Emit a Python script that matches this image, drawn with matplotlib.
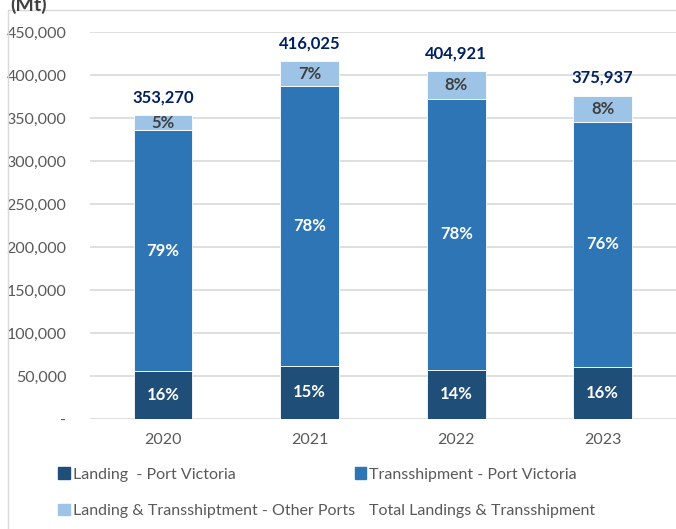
import numpy as np
import matplotlib.pyplot as plt
from matplotlib.patches import Patch, Rectangle

# ====== DATA (Mt) ======
years = ["2020", "2021", "2022", "2023"]
landing_pv = [55500, 62000, 57500, 60500]
transship_pv = [280000, 325000, 315000, 285000]
other_ports = [17770, 29025, 32421, 30437]
totals = [353270, 416025, 404921, 375937]

c_land = "#1F4E79"
c_trans = "#2E75B6"
c_other = "#9DC3E6"
c_total = "#002060"
c_grey = "#595959"

plt.rcParams["font.family"] = ["Lato", "DejaVu Sans"]

fig = plt.figure(figsize=(6.76, 5.29), dpi=100)
ax = fig.add_axes([0.133, 0.208, 0.867, 0.7315])

x = np.arange(len(years))
w = 0.40
land = np.array(landing_pv)
trans = np.array(transship_pv)
oth = np.array(other_ports)
tot = np.array(totals)

ax.bar(x, land, w, color=c_land, edgecolor="white", linewidth=0.6, zorder=3)
ax.bar(x, trans, w, bottom=land, color=c_trans, edgecolor="white", linewidth=0.6, zorder=3)
ax.bar(x, oth, w, bottom=land + trans, color=c_other, edgecolor="white", linewidth=0.6, zorder=3)

# percent labels
for i in range(len(years)):
    ax.text(x[i], land[i] / 2, f"{land[i] / tot[i] * 100:.0f}%", ha="center", va="center",
            color="white", fontsize=12, fontweight="bold", zorder=4)
    ax.text(x[i], land[i] + trans[i] / 2, f"{trans[i] / tot[i] * 100:.0f}%", ha="center", va="center",
            color="white", fontsize=12, fontweight="bold", zorder=4)
    ax.text(x[i], land[i] + trans[i] + oth[i] / 2, f"{oth[i] / tot[i] * 100:.0f}%", ha="center", va="center",
            color="#404040", fontsize=12, fontweight="bold", zorder=4)
    ax.annotate(f"{tot[i]:,}", (x[i], tot[i]), xytext=(0, 7), textcoords="offset points",
                ha="center", va="bottom", color=c_total, fontsize=12, fontweight="bold", zorder=4)

ax.set_xlim(-0.5, 3.5)
ax.set_ylim(0, 450000)
yt = np.arange(0, 450001, 50000)
ax.set_yticks(yt)
ax.set_yticklabels(["-"] + [f"{v:,}" for v in yt[1:]])
ax.set_xticks(x)
ax.set_xticklabels(years)
ax.tick_params(axis="both", length=0, colors=c_grey, labelsize=11.5)
ax.tick_params(axis="y", pad=17)
ax.tick_params(axis="x", pad=10)
ax.yaxis.grid(True, color="#D9D9D9", linewidth=1.2, zorder=0)
ax.set_axisbelow(True)
for s in ax.spines.values():
    s.set_visible(False)

# chart frame and unit label
fig.patches.append(Rectangle((8 / 676, -0.01), 1.0, 1 - 10 / 529 + 0.01, transform=fig.transFigure,
                             fill=False, edgecolor="#D9D9D9", linewidth=1.0))
fig.text(10 / 676, 1.0 + 0.008, "(Mt)", ha="left", va="top", fontsize=14, fontweight="bold", color="#404040")

# legend filled row by row, as in the reference
handles = [Patch(color=c_land), Patch(color=c_other),
           Patch(color=c_trans), Patch(facecolor="none", edgecolor="none")]
labels = ["Landing  - Port Victoria", "Landing & Transshiptment - Other Ports",
          "Transshipment - Port Victoria", "Total Landings & Transshipment"]
fig.legend(handles, labels, ncol=2, loc="upper left", bbox_to_anchor=(44 / 676, 1 - 453 / 529),
           frameon=False, fontsize=11.5, labelcolor=c_grey, handlelength=0.7, handleheight=0.7,
           handletextpad=0.2, columnspacing=0.0, labelspacing=1.4)

fig.savefig("out.png", dpi=100)
